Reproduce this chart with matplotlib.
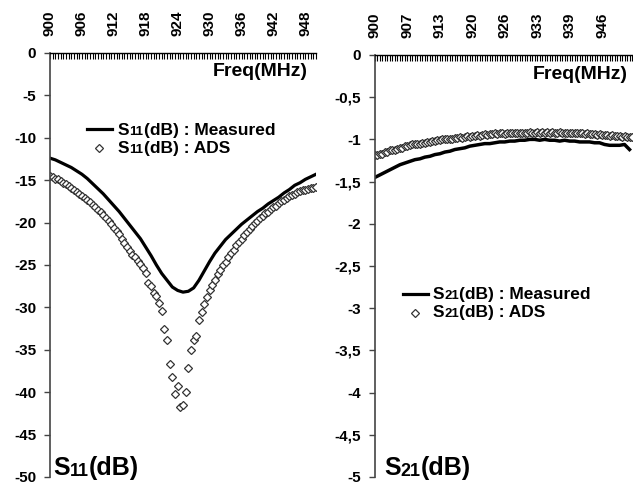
import numpy as np
import matplotlib
matplotlib.use("Agg")
import matplotlib.pyplot as plt
from matplotlib.lines import Line2D
from matplotlib.ticker import MultipleLocator

plt.rcParams['font.family'] = ['Liberation Sans', 'DejaVu Sans']
plt.rcParams['font.weight'] = 'bold'

# ---- S11 data (left panel) ----
s11_meas = [-12.4, -12.6, -12.9, -13.2, -13.5, -13.9, -14.3, -14.8, -15.4, -16.0,
            -16.6, -17.3, -18.0, -18.7, -19.5, -20.3, -21.1, -21.9, -22.9, -23.9,
            -25.0, -26.0, -26.8, -27.6, -28.0, -28.2, -28.1, -27.7, -26.8, -25.7,
            -24.6, -23.6, -22.8, -22.0, -21.4, -20.8, -20.2, -19.7, -19.2, -18.7,
            -18.3, -17.8, -17.4, -17.0, -16.5, -16.1, -15.6, -15.3, -14.9, -14.6,
            -14.3]
s11_ads = [-14.5, -14.6, -14.8, -14.9, -15.1, -15.3, -15.5, -15.7, -15.9, -16.1,
           -16.4, -16.6, -16.9, -17.1, -17.3, -17.6, -17.9, -18.2, -18.5, -18.8,
           -19.1, -19.5, -19.8, -20.2, -20.6, -21.0, -21.4, -21.9, -22.4, -22.9,
           -23.4, -23.8, -24.1, -24.5, -24.9, -25.3, -25.9, -27.1, -27.5, -28.3,
           -28.6, -29.5, -30.4, -32.6, -33.8, -36.7, -38.2, -40.2, -39.3, -41.7,
           -41.5, -40.0, -37.2, -35.0, -33.9, -33.4, -31.5, -30.5, -29.6, -28.8,
           -28.0, -27.4, -26.8, -26.1, -25.6, -25.0, -24.6, -24.1, -23.6, -23.2,
           -22.7, -22.3, -21.9, -21.5, -21.1, -20.8, -20.4, -20.1, -19.8, -19.5,
           -19.2, -18.9, -18.7, -18.4, -18.2, -18.0, -17.7, -17.5, -17.3, -17.1,
           -16.9, -16.7, -16.6, -16.4, -16.3, -16.2, -16.1, -16.0, -15.9, -15.9,
           -15.8]
s11_xticks = [900, 906, 912, 918, 924, 930, 936, 942, 948]
s11_yticks = [0, -5, -10, -15, -20, -25, -30, -35, -40, -45, -50]

# ---- S21 data (right panel) ----
s21_meas = [-1.45, -1.42, -1.39, -1.36, -1.33, -1.30, -1.28, -1.26, -1.24, -1.23,
            -1.21, -1.20, -1.18, -1.17, -1.15, -1.14, -1.12, -1.11, -1.10, -1.08,
            -1.07, -1.06, -1.05, -1.05, -1.04, -1.03, -1.03, -1.02, -1.02, -1.01,
            -1.01, -1.00, -1.00, -1.01, -1.00, -1.01, -1.01, -1.02, -1.01, -1.02,
            -1.02, -1.03, -1.03, -1.03, -1.04, -1.04, -1.06, -1.07, -1.07, -1.07,
            -1.06, -1.12]
s21_ads = [-1.19, -1.18, -1.17, -1.17, -1.15, -1.15, -1.13, -1.13, -1.12, -1.11,
           -1.10, -1.10, -1.08, -1.08, -1.07, -1.06, -1.06, -1.05, -1.05, -1.04,
           -1.04, -1.03, -1.03, -1.02, -1.02, -1.01, -1.01, -1.00, -1.00, -0.99,
           -0.99, -0.99, -0.98, -0.98, -0.97, -0.98, -0.97, -0.96, -0.97, -0.96,
           -0.96, -0.95, -0.96, -0.95, -0.94, -0.95, -0.94, -0.94, -0.93, -0.94,
           -0.93, -0.93, -0.94, -0.93, -0.92, -0.93, -0.92, -0.93, -0.92, -0.92,
           -0.93, -0.92, -0.91, -0.92, -0.92, -0.91, -0.92, -0.91, -0.92, -0.91,
           -0.92, -0.91, -0.92, -0.92, -0.91, -0.92, -0.92, -0.93, -0.92, -0.93,
           -0.92, -0.93, -0.93, -0.93, -0.94, -0.93, -0.94, -0.94, -0.94, -0.95,
           -0.94, -0.95, -0.95, -0.95, -0.96, -0.95, -0.96, -0.96, -0.96, -0.97,
           -0.96, -0.97, -0.97, -0.97]
s21_xticks = [900, 906.5, 913, 919.5, 926, 932.5, 939, 945.5]
s21_xticklabels = ['900', '907', '913', '920', '926', '933', '939', '946']
s21_yticks = [0, -0.5, -1, -1.5, -2, -2.5, -3, -3.5, -4, -4.5, -5]
s21_yticklabels = ['0', '-0,5', '-1', '-1,5', '-2', '-2,5', '-3', '-3,5', '-4', '-4,5', '-5']

W, H = 633, 484
fig = plt.figure(figsize=(W / 100, H / 100), dpi=100)


def px(x, y):
    return (x / W, 1 - y / H)


def rich(x, y, parts):
    # chain text pieces so the index digits come out smaller
    t = fig.text(*px(x, y), parts[0][0], fontsize=parts[0][1], fontweight='bold',
                 ha='left', va='baseline')
    for s, fs in parts[1:]:
        t = fig.add_artist(plt.Annotation(s, xy=(1, 0), xycoords=t, fontsize=fs,
                                          fontweight='bold', ha='left', va='bottom'))
    return t


def style(ax, xlim, ylim, xticks, xlabels, yticks, ylabels):
    ax.set_xlim(*xlim)
    ax.set_ylim(*ylim)
    ax.xaxis.tick_top()
    ax.set_xticks(xticks)
    ax.set_xticklabels(xlabels, rotation=90, fontsize=11, fontweight='bold')
    ax.xaxis.set_minor_locator(MultipleLocator(0.5))
    ax.tick_params(axis='x', which='both', direction='in', length=4, width=0.8,
                   pad=12, top=True, bottom=False)
    ax.set_yticks(yticks)
    ax.set_yticklabels(ylabels, fontsize=11, fontweight='bold')
    ax.tick_params(axis='y', direction='out', length=4, width=1, pad=6, color='#444444')
    ax.spines['right'].set_visible(False)
    ax.spines['bottom'].set_visible(False)
    ax.spines['left'].set_color('#444444')
    ax.spines['left'].set_linewidth(1.2)
    ax.spines['top'].set_linewidth(1.0)


# left panel
ax1 = fig.add_axes([50 / W, 7 / H, 266 / W, 424 / H])
f_meas1 = 900 + np.arange(len(s11_meas))
f_ads1 = 900 + 0.5 * np.arange(len(s11_ads))
ax1.plot(f_meas1, s11_meas, color='black', lw=2.3)
ax1.plot(f_ads1, s11_ads, ls='none', marker='D', ms=4, mfc='white', mec='#333333', mew=0.9)
style(ax1, (900, 950), (-50, 0), s11_xticks, [str(v) for v in s11_xticks],
      s11_yticks, [str(v) for v in s11_yticks])

# right panel
ax2 = fig.add_axes([375 / W, 7 / H, 257 / W, 422 / H])
f_meas2 = 900 + np.arange(len(s21_meas))
f_ads2 = 900 + 0.5 * np.arange(len(s21_ads))
ax2.plot(f_meas2, s21_meas, color='black', lw=2.5)
ax2.plot(f_ads2, s21_ads, ls='none', marker='D', ms=4, mfc='white', mec='#333333', mew=0.9)
style(ax2, (900, 951.5), (-5, 0), s21_xticks, s21_xticklabels, s21_yticks, s21_yticklabels)

# axis titles
fig.text(*px(308, 76), 'Freq(MHz)', fontsize=14, fontweight='bold', ha='right', va='baseline')
fig.text(*px(628, 79), 'Freq(MHz)', fontsize=14, fontweight='bold', ha='right', va='baseline')
rich(53, 475, [('S', 18), ('11', 13), ('(dB)', 18)])
rich(384, 475, [('S', 18), ('21', 13), ('(dB)', 18)])

# legends
fig.add_artist(Line2D([87 / W, 112 / W], [1 - 129 / H, 1 - 129 / H], color='black', lw=2.3))
fig.add_artist(Line2D([99 / W], [1 - 148 / H], ls='none', marker='D', ms=4, mfc='white',
                      mec='#333333', mew=0.9))
rich(118, 135, [('S', 12.5), ('11', 9.5), ('(dB) : Measured', 12.5)])
rich(118, 153, [('S', 12.5), ('11', 9.5), ('(dB) : ADS', 12.5)])

fig.add_artist(Line2D([403 / W, 428 / W], [1 - 294 / H, 1 - 294 / H], color='black', lw=2.3))
fig.add_artist(Line2D([415 / W], [1 - 313 / H], ls='none', marker='D', ms=4, mfc='white',
                      mec='#333333', mew=0.9))
rich(433, 299, [('S', 12.5), ('21', 9.5), ('(dB) : Measured', 12.5)])
rich(433, 317, [('S', 12.5), ('21', 9.5), ('(dB) : ADS', 12.5)])

fig.savefig('out.png', dpi=100)
